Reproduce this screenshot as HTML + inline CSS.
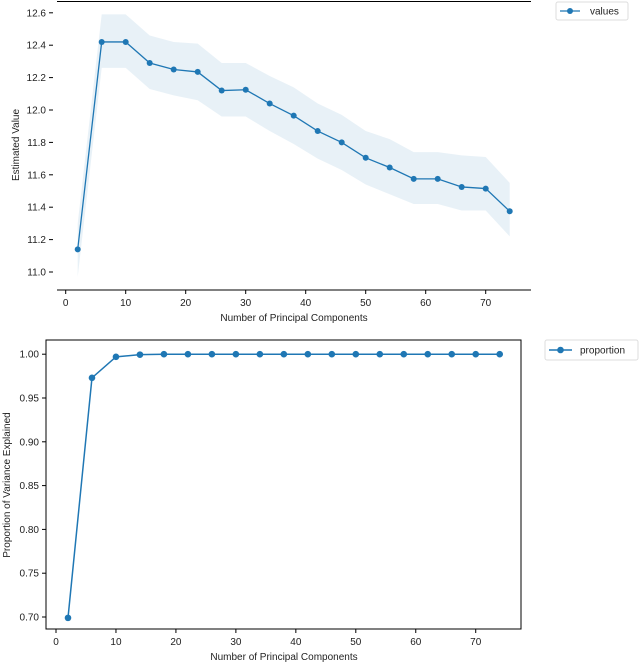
<!DOCTYPE html>
<html><head><meta charset="utf-8"><style>
body{margin:0;background:#fff;}
svg{display:block;font-family:"Liberation Sans","DejaVu Sans",sans-serif;}
</style></head><body>
<svg id="s" width="640" height="663" viewBox="0 0 640 663"></svg>
<script>
const xs = [2,6,10,14,18,22,26,30,34,38,42,46,50,54,58,62,66,70,74];
const estValues = [11.14,12.42,12.42,12.29,12.25,12.235,12.12,12.125,12.04,11.965,11.87,11.80,11.705,11.645,11.575,11.575,11.525,11.515,11.375];
const estUpper = [11.30,12.59,12.59,12.46,12.42,12.41,12.29,12.29,12.21,12.14,12.04,11.97,11.87,11.82,11.74,11.74,11.72,11.71,11.55];
const estLower = [10.97,12.26,12.26,12.13,12.09,12.06,11.96,11.96,11.87,11.79,11.70,11.63,11.54,11.48,11.42,11.42,11.38,11.38,11.22];
const propValues = [0.699,0.973,0.997,0.9995,1,1,1,1,1,1,1,1,1,1,1,1,1,1,1];
const xTicks = [0,10,20,30,40,50,60,70];
const topYTicks = [11.0,11.2,11.4,11.6,11.8,12.0,12.2,12.4,12.6];
const botYTicks = [0.70,0.75,0.80,0.85,0.90,0.95,1.00];

const S = document.getElementById('s');
const NS = 'http://www.w3.org/2000/svg';
function mk(tag, attrs, parent){const e=document.createElementNS(NS,tag);for(const k in attrs)e.setAttribute(k,attrs[k]);(parent||S).appendChild(e);return e;}
const C='#1f77b4';

// ---- top chart ----
const tx = v => 65.7 + v*6.0;
const ty = v => 272 - (v-11.0)*162;
const g1 = mk('g',{});


let band = xs.map((x,i)=>tx(x)+','+ty(estUpper[i])).join(' ')+' '+xs.slice().reverse().map((x,j)=>{const i=xs.length-1-j;return tx(x)+','+ty(estLower[i]);}).join(' ');
const b = mk('polygon',{points:band,fill:C,'fill-opacity':0.1,stroke:'none'},g1);


mk('line',{x1:57,x2:531,y1:1.5,y2:1.5,stroke:'#000','stroke-width':1},g1);
mk('line',{x1:57,x2:531,y1:290,y2:290,stroke:'#000','stroke-width':1},g1);
xTicks.forEach(t=>{mk('line',{x1:tx(t),x2:tx(t),y1:290,y2:294,stroke:'#000'},g1);
 const l=mk('text',{x:tx(t),y:306,'font-size':10,'text-anchor':'middle',fill:'#222'},g1);l.textContent=t;
 });
topYTicks.forEach(t=>{mk('line',{x1:49,x2:53,y1:ty(t),y2:ty(t),stroke:'#000'},g1);
 const l=mk('text',{x:46,y:ty(t)+3.5,'font-size':10,'text-anchor':'end',fill:'#222'},g1);l.textContent=t.toFixed(1);
 });
const xl1=mk('text',{x:294,y:321,'font-size':10,'text-anchor':'middle',fill:'#222'},g1);xl1.textContent='Number of Principal Components';

const yl1=mk('text',{x:0,y:0,'font-size':10,'text-anchor':'middle',fill:'#222',transform:'translate(19,145) rotate(-90)'},g1);yl1.textContent='Estimated Value';

const ln1=mk('polyline',{points:xs.map((x,i)=>tx(x)+','+ty(estValues[i])).join(' '),fill:'none',stroke:C,'stroke-width':1.3},g1);

xs.forEach((x,i)=>{const c=mk('circle',{cx:tx(x),cy:ty(estValues[i]),r:3,fill:C},g1);
 });
const lg1=mk('g',{},g1);

mk('rect',{x:556,y:2,width:72,height:18,rx:2,fill:'#fff',stroke:'#ddd'},lg1);
mk('line',{x1:560,x2:580,y1:11,y2:11,stroke:C,'stroke-width':1.3},lg1);
mk('circle',{cx:570,cy:11,r:3,fill:C},lg1);
const lt1=mk('text',{x:590,y:14.5,'font-size':10,fill:'#222'},lg1);lt1.textContent='values';

// ---- bottom chart ----
const bx = v => 56 + v*5.996;
const by = v => 617 - (v-0.70)*876;
const g2 = mk('g',{});


mk('rect',{x:46,y:340,width:475,height:289,fill:'none',stroke:'#000','stroke-width':1},g2);
xTicks.forEach(t=>{mk('line',{x1:bx(t),x2:bx(t),y1:629,y2:633,stroke:'#000'},g2);
 const l=mk('text',{x:bx(t),y:645,'font-size':10,'text-anchor':'middle',fill:'#222'},g2);l.textContent=t;
 });
botYTicks.forEach(t=>{mk('line',{x1:42,x2:46,y1:by(t),y2:by(t),stroke:'#000'},g2);
 const l=mk('text',{x:39,y:by(t)+3.5,'font-size':10,'text-anchor':'end',fill:'#222'},g2);l.textContent=t.toFixed(2);
 });
const xl2=mk('text',{x:284,y:660,'font-size':10,'text-anchor':'middle',fill:'#222'},g2);xl2.textContent='Number of Principal Components';

const yl2=mk('text',{x:0,y:0,'font-size':10,'text-anchor':'middle',fill:'#222',transform:'translate(10,485) rotate(-90)'},g2);yl2.textContent='Proportion of Variance Explained';

const ln2=mk('polyline',{points:xs.map((x,i)=>bx(x)+','+by(propValues[i])).join(' '),fill:'none',stroke:C,'stroke-width':1.5},g2);

xs.forEach((x,i)=>{const c=mk('circle',{cx:bx(x),cy:by(propValues[i]),r:3.3,fill:C},g2);
 });
const lg2=mk('g',{},g2);

mk('rect',{x:545,y:340,width:93,height:20,rx:2,fill:'#fff',stroke:'#ddd'},lg2);
mk('line',{x1:549,x2:572,y1:350,y2:350,stroke:C,'stroke-width':1.5},lg2);
mk('circle',{cx:560.5,cy:350,r:3.3,fill:C},lg2);
const lt2=mk('text',{x:580,y:353.5,'font-size':10,fill:'#222'},lg2);lt2.textContent='proportion';
</script>
</body></html>
